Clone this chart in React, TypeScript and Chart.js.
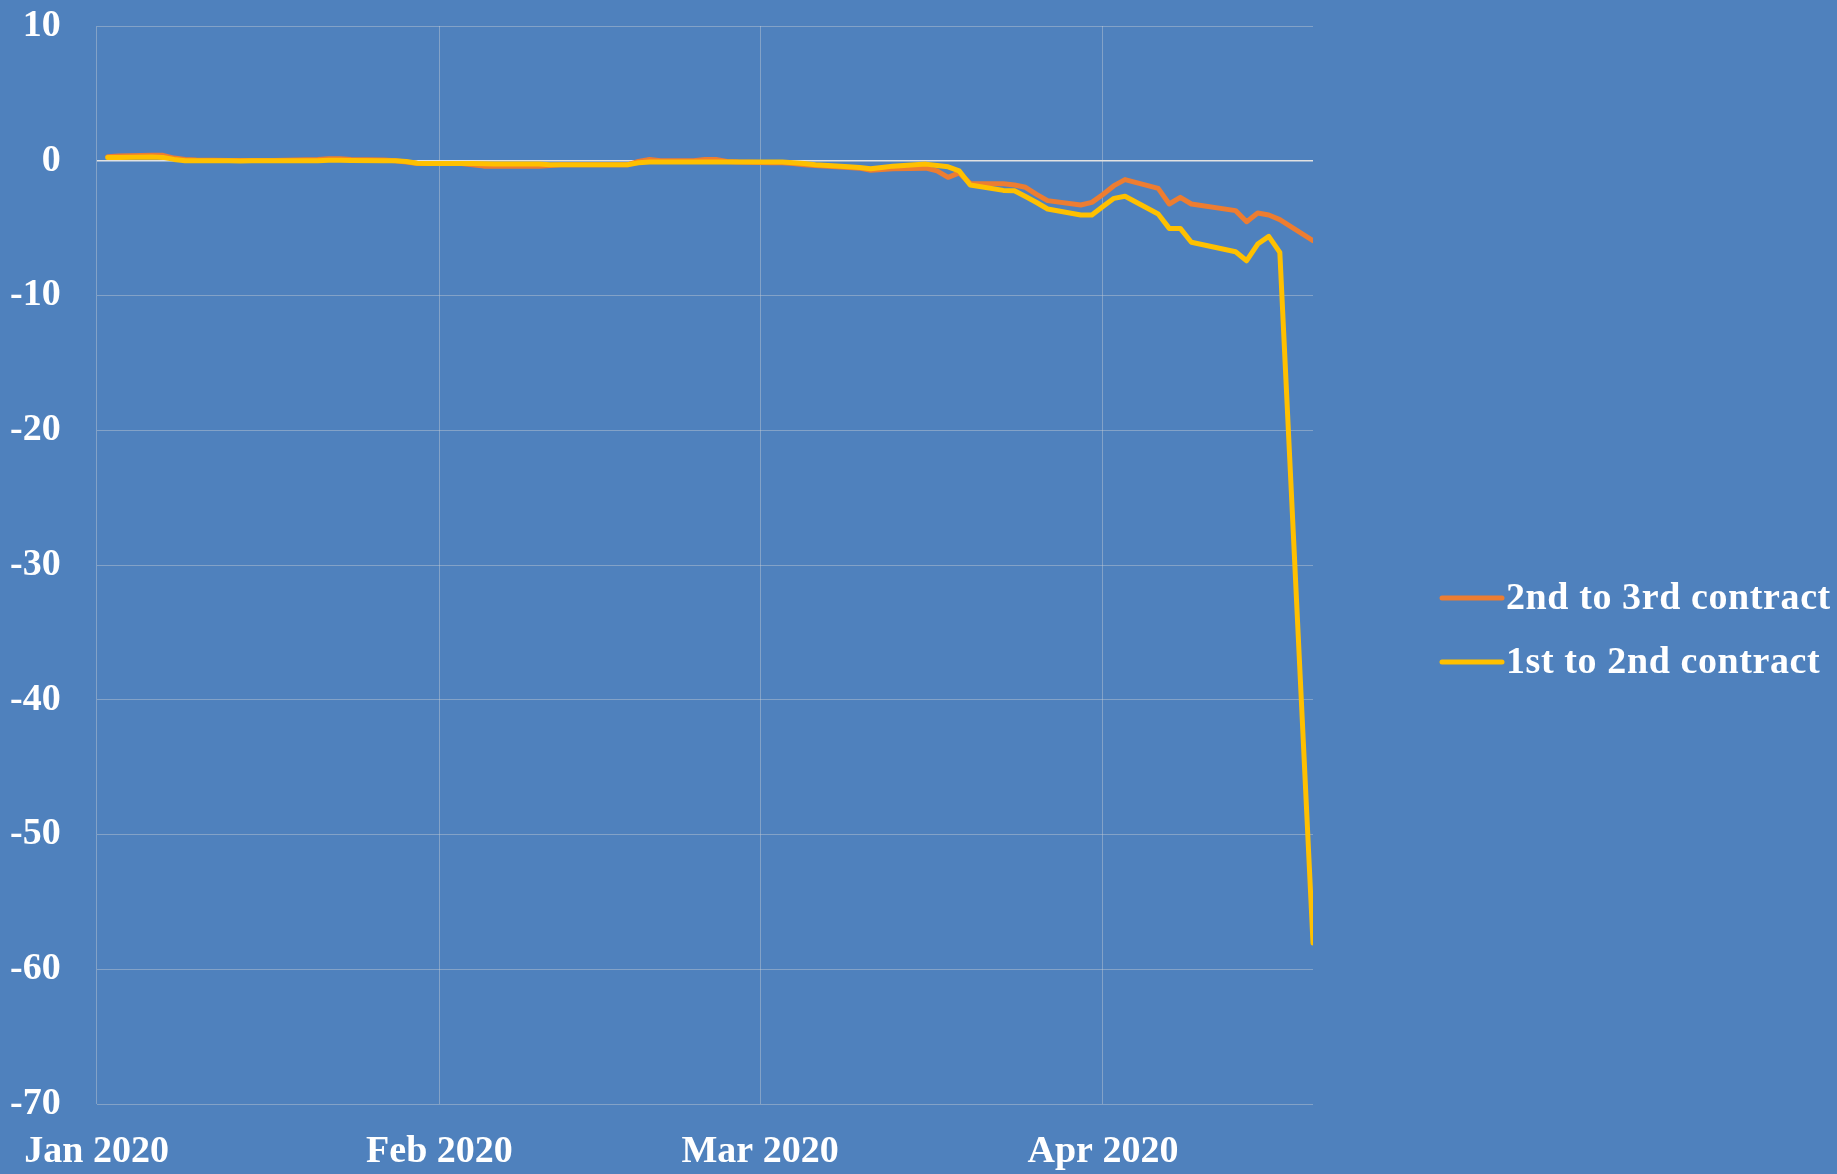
import React, { useEffect, useRef } from "react";
import { Chart, registerables } from "chart.js";

Chart.register(...registerables);

// ---- data ----
const dates = [
  "2020-01-02", "2020-01-03", "2020-01-06", "2020-01-07", "2020-01-08", "2020-01-09", "2020-01-10",
  "2020-01-13", "2020-01-14", "2020-01-15", "2020-01-16", "2020-01-17", "2020-01-21", "2020-01-22",
  "2020-01-23", "2020-01-24", "2020-01-27", "2020-01-28", "2020-01-29", "2020-01-30", "2020-01-31",
  "2020-02-03", "2020-02-04", "2020-02-05", "2020-02-06", "2020-02-07", "2020-02-10", "2020-02-11",
  "2020-02-12", "2020-02-13", "2020-02-14", "2020-02-18", "2020-02-19", "2020-02-20", "2020-02-21",
  "2020-02-24", "2020-02-25", "2020-02-26", "2020-02-27", "2020-02-28",
  "2020-03-02", "2020-03-03", "2020-03-04", "2020-03-05", "2020-03-06", "2020-03-09", "2020-03-10",
  "2020-03-11", "2020-03-12", "2020-03-13", "2020-03-16", "2020-03-17", "2020-03-18", "2020-03-19",
  "2020-03-20", "2020-03-23", "2020-03-24", "2020-03-25", "2020-03-26", "2020-03-27", "2020-03-30",
  "2020-03-31",
  "2020-04-01", "2020-04-02", "2020-04-03", "2020-04-06", "2020-04-07", "2020-04-08", "2020-04-09",
  "2020-04-13", "2020-04-14", "2020-04-15", "2020-04-16", "2020-04-17", "2020-04-20",
];

const spread2to3 = [
  0.3, 0.35, 0.4, 0.4, 0.2, 0.1, 0.05, 0.02, 0.02, 0.02, 0.02, 0.02, 0.1, 0.15, 0.15, 0.1, 0.05, 0.0, -0.1, -0.2, -0.2,
  -0.2, -0.3, -0.4, -0.4, -0.4, -0.4, -0.35, -0.3, -0.3, -0.3, -0.3, -0.05, 0.1, 0.0, 0.0, 0.1, 0.1, -0.05, -0.1,
  -0.15, -0.15, -0.2, -0.3, -0.35, -0.5, -0.55, -0.7, -0.65, -0.6, -0.55, -0.75, -1.23, -0.9, -1.68, -1.7, -1.8,
  -1.97, -2.5, -2.96, -3.28, -3.09,
  -2.5, -1.85, -1.4, -2.05, -3.21, -2.72, -3.21, -3.7, -4.52, -3.88, -4.03, -4.37, -5.93,
];

const spread1to2 = [
  0.25, 0.25, 0.28, 0.25, 0.1, 0.0, 0.0, 0.0, -0.02, 0.0, 0.0, 0.0, 0.0, 0.03, 0.03, 0.02, 0.0, 0.0, -0.05, -0.18, -0.2,
  -0.2, -0.2, -0.22, -0.25, -0.25, -0.25, -0.3, -0.3, -0.3, -0.3, -0.3, -0.15, -0.1, -0.1, -0.1, -0.1, -0.1, -0.1, -0.1,
  -0.1, -0.1, -0.15, -0.2, -0.3, -0.45, -0.5, -0.6, -0.5, -0.4, -0.25, -0.35, -0.45, -0.75, -1.8, -2.2, -2.22,
  -2.65, -3.1, -3.58, -4.03, -4.03,
  -3.4, -2.79, -2.64, -3.95, -5.02, -5.02, -6.05, -6.75, -7.42, -6.18, -5.61, -6.8, -58.06,
];

const seriesLabels = ["2nd to 3rd contract", "1st to 2nd contract"];
const seriesColors = ["#ED7D31", "#FFC000"];

const monthTickDates = ["2020-01-01", "2020-02-01", "2020-03-01", "2020-04-01"];
const monthTickLabels = ["Jan 2020", "Feb 2020", "Mar 2020", "Apr 2020"];
const axisStartDate = "2020-01-01";
const axisEndDate = "2020-04-20";

const yMin = -70;
const yMax = 10;
const yStep = 10;

// ---- helpers ----
const BG = "#4F81BD";
const FONT_FAMILY = '"Liberation Serif", "Times New Roman", serif';
const FONT_SIZE = 38;
const GRID = "rgba(215,215,215,0.38)";
const ZERO_LINE = "#E2E2E2";
const X_TICK_PAD = 29;
const Y_TICK_PAD = 36;

const dayIndex = (d: string) =>
  (Date.parse(d + "T00:00:00Z") - Date.parse(axisStartDate + "T00:00:00Z")) / 86400000;

const sideLegend = {
  id: "sideLegend",
  afterDraw(chart: any) {
    const { ctx, chartArea } = chart;
    ctx.save();
    ctx.font = `bold ${FONT_SIZE}px ${FONT_FAMILY}`;
    try {
      (ctx as any).letterSpacing = "0.6px";
    } catch (e) {}
    ctx.textBaseline = "middle";
    ctx.textAlign = "left";
    const lineStart = chartArea.right + 129;
    const lineLen = 60;
    const firstY = 598;
    const rowGap = 64;
    chart.data.datasets.forEach((ds: any, i: number) => {
      const y = firstY + i * rowGap;
      ctx.strokeStyle = ds.borderColor;
      ctx.lineWidth = 5;
      ctx.lineCap = "round";
      ctx.beginPath();
      ctx.moveTo(lineStart, y);
      ctx.lineTo(lineStart + lineLen, y);
      ctx.stroke();
      ctx.fillStyle = "#FFFFFF";
      ctx.fillText(ds.label, lineStart + lineLen + 4, y + 1);
    });
    ctx.restore();
  },
};

export default function App() {
  const ref = useRef<HTMLCanvasElement | null>(null);

  useEffect(() => {
    if (!ref.current) return;
    const toPoints = (vals: number[]) => dates.map((d, i) => ({ x: dayIndex(d), y: vals[i] }));
    const chart = new Chart(ref.current, {
      type: "line",
      data: {
        datasets: [
          {
            label: seriesLabels[0],
            data: toPoints(spread2to3),
            borderColor: seriesColors[0],
            backgroundColor: seriesColors[0],
            borderWidth: 5,
            pointRadius: 0,
            tension: 0,
            borderJoinStyle: "round",
            borderCapStyle: "round",
            order: 1,
          },
          {
            label: seriesLabels[1],
            data: toPoints(spread1to2),
            borderColor: seriesColors[1],
            backgroundColor: seriesColors[1],
            borderWidth: 5,
            pointRadius: 0,
            tension: 0,
            borderJoinStyle: "round",
            borderCapStyle: "round",
            order: 0,
          },
        ],
      },
      options: {
        responsive: false,
        animation: false,
        layout: { padding: { left: 10, top: 26, right: 524, bottom: 3 } },
        plugins: {
          legend: { display: false },
          tooltip: { enabled: false },
        },
        scales: {
          x: {
            type: "linear",
            min: dayIndex(axisStartDate),
            max: dayIndex(axisEndDate),
            afterBuildTicks: (axis: any) => {
              axis.ticks = monthTickDates.map((d) => ({ value: dayIndex(d) }));
            },
            afterFit: (scale: any) => {
              scale.paddingLeft = 0;
              scale.paddingRight = 0;
              scale.height = scale.height - X_TICK_PAD;
            },
            grid: { color: GRID, lineWidth: 1, drawTicks: false },
            border: { display: false },
            ticks: {
              autoSkip: false,
              maxRotation: 0,
              padding: X_TICK_PAD,
              color: "#FFFFFF",
              font: { family: FONT_FAMILY, size: FONT_SIZE, weight: "bold", lineHeight: 1 },
              callback: (_v: any, i: number) => monthTickLabels[i],
            },
          },
          y: {
            min: yMin,
            max: yMax,
            afterFit: (scale: any) => {
              scale.paddingTop = 0;
              scale.paddingBottom = 0;
              scale.width = scale.width - Y_TICK_PAD;
            },
            grid: {
              color: (c: any) => (c.tick && c.tick.value === 0 ? ZERO_LINE : GRID),
              lineWidth: (c: any) => (c.tick && c.tick.value === 0 ? 1.6 : 1),
              drawTicks: false,
            },
            border: { display: false },
            ticks: {
              stepSize: yStep,
              padding: Y_TICK_PAD,
              color: "#FFFFFF",
              font: { family: FONT_FAMILY, size: FONT_SIZE, weight: "bold" },
              callback: (v: any) => String(v),
            },
          },
        },
      },
      plugins: [sideLegend],
    });
    return () => chart.destroy();
  }, []);

  return (
    <div style={{ position: "fixed", left: 0, top: 0, width: 1837, height: 1174, background: BG }}>
      <canvas ref={ref} width={1837} height={1174} style={{ display: "block" }} />
    </div>
  );
}
